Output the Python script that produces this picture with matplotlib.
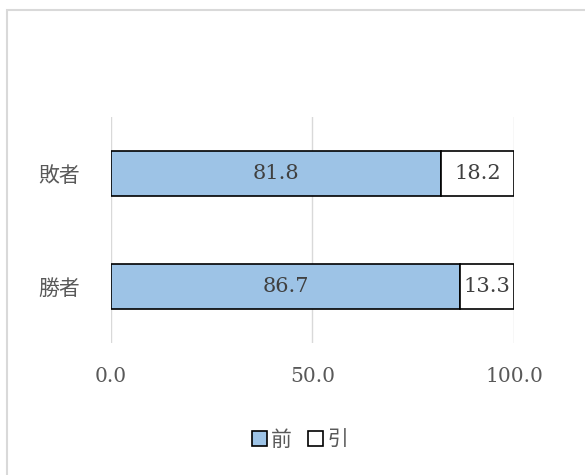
import matplotlib.pyplot as plt
from matplotlib.patches import Patch, Rectangle

categories = ["勝者", "敗者"]
mae = [86.7, 81.8]
hiki = [13.3, 18.2]
series_names = ["前", "引"]
xticks = [0, 50, 100]

jp = ["Noto Sans CJK JP", "DejaVu Sans"]
serif = "DejaVu Serif"
grey = "#595959"

fig = plt.figure(figsize=(5.85, 4.75), dpi=100)
ax = fig.add_axes([0.1897, 0.2779, 0.6889, 0.4758])

# outer chart frame (right/bottom edges run off the canvas)
fig.patches.append(Rectangle((6.5 / 585, -0.05), 1.0, 1 - 9.5 / 475 + 0.05,
                             transform=fig.transFigure, fill=False,
                             edgecolor="#d9d9d9", linewidth=1.5))

y = range(len(categories))
b1 = ax.barh(y, mae, height=0.4, color="#9dc3e6", edgecolor="black", linewidth=1.2, zorder=3)
b2 = ax.barh(y, hiki, left=mae, height=0.4, color="white", edgecolor="black", linewidth=1.2, zorder=3)

for bars in (b1, b2):
    ax.bar_label(bars, fmt="%.1f", label_type="center", fontsize=15,
                 family=serif, color="#404040")

ax.set_xlim(0, 100)
ax.set_ylim(-0.5, 1.5)
ax.set_xticks(xticks)
ax.set_xticklabels([f"{v:.1f}" for v in xticks], family=serif, fontsize=14.5, color=grey)
ax.set_yticks(list(y))
ax.set_yticklabels(categories, family=jp, fontsize=15, color=grey)
ax.tick_params(length=0)
ax.tick_params(axis="x", pad=17)
ax.tick_params(axis="y", pad=22)
ax.xaxis.grid(True, color="#d9d9d9", linewidth=1.0, zorder=0)
for s in ax.spines.values():
    s.set_visible(False)

handles = [Patch(facecolor="#9dc3e6", edgecolor="black", linewidth=1.2),
           Patch(facecolor="white", edgecolor="black", linewidth=1.2)]
fig.legend(handles, series_names, loc="center", bbox_to_anchor=(0.513, 0.074), ncol=2,
           frameon=False, prop={"family": jp, "size": 15}, labelcolor=grey,
           handlelength=0.7, handleheight=0.7, handletextpad=0.2, columnspacing=0.8)

fig.savefig("out.png", dpi=100)
